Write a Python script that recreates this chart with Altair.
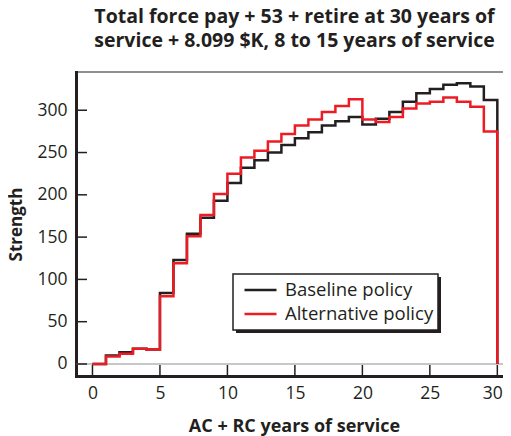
import altair as alt
import pandas as pd

# ---- data ----
years = list(range(30))
baseline = [0, 10, 14, 18, 17, 84, 123, 154, 173, 193, 214, 232, 241, 250, 259,
            267, 274, 282, 287, 292, 283, 290, 298, 310, 320, 325, 330, 332, 328, 312]
alternative = [0, 9, 12, 18, 17, 80, 119, 151, 176, 201, 225, 244, 252, 263, 272,
               282, 289, 298, 305, 313, 289, 286, 292, 302, 308, 310, 315, 310, 304, 275]
end_year = 30
series_names = ["Baseline policy", "Alternative policy"]
series_colors = ["#231f20", "#ed1c24"]
x_ticks = [0, 5, 10, 15, 20, 25, 30]
y_ticks = [0, 50, 100, 150, 200, 250, 300]
title_lines = ["Total force pay + 53 + retire at 30 years of",
               "service + 8.099 $K, 8 to 15 years of service"]
x_title = "AC + RC years of service"
y_title = "Strength"

INK = "#231f20"
FONT = "Open Sans"
W, H = 427, 304


def series_rows(name, vals):
    out = [{"year": y, "value": v, "policy": name, "idx": i}
           for i, (y, v) in enumerate(zip(years, vals))]
    out.append({"year": end_year, "value": vals[-1], "policy": name, "idx": len(vals)})
    out.append({"year": end_year, "value": 0, "policy": name, "idx": len(vals) + 1})
    return out


df_base = pd.DataFrame(series_rows(series_names[0], baseline))
df_alt = pd.DataFrame(series_rows(series_names[1], alternative))

x_scale = alt.Scale(domain=[-1.22, 30.42], nice=False, zero=False)
y_scale = alt.Scale(domain=[-14.2, 345.2], nice=False, zero=False)
color_scale = alt.Scale(domain=series_names, range=series_colors)

x_axis = alt.Axis(values=x_ticks, ticks=False, grid=False, domainWidth=3,
                  domainColor=INK, domainCap="square", labelFont=FONT, labelFontSize=17.5,
                  labelColor=INK, labelPadding=8,
                  labelOffset={"condition": {"test": "datum.value == 30", "value": -5},
                               "value": 0},
                  title=x_title, titleFont=FONT,
                  titleFontSize=18, titleFontWeight="bold", titleColor=INK,
                  titleX=218, titleY=55, titleBaseline="alphabetic")
y_axis = alt.Axis(values=y_ticks, ticks=False, grid=False, domainWidth=3,
                  domainColor=INK, domainCap="square", labelFont=FONT, labelFontSize=17.5,
                  labelColor=INK, labelPadding=9, title=y_title, titleFont=FONT,
                  titleFontSize=17, titleFontWeight="bold", titleColor=INK,
                  titleX=-60, titleY=H / 2, titleAngle=270, titleAlign="center",
                  titleBaseline="middle")

zero_line = alt.Chart(pd.DataFrame({"v": [0]})).mark_rule(
    color="#b5b5b5", strokeWidth=1.5
).encode(y=alt.Y("v:Q", scale=y_scale, axis=y_axis))

y_tick_marks = alt.Chart(pd.DataFrame({"t": y_ticks})).mark_rule(
    color=INK, strokeWidth=1.5
).encode(y=alt.Y("t:Q", scale=y_scale, axis=y_axis), x=alt.value(0), x2=alt.value(11))

x_tick_marks = alt.Chart(pd.DataFrame({"t": x_ticks})).mark_rule(
    color=INK, strokeWidth=1.5
).encode(x=alt.X("t:Q", scale=x_scale, axis=x_axis), y=alt.value(H), y2=alt.value(H - 11))

top_border = alt.Chart(pd.DataFrame({"v": [0]})).mark_rule(
    color=INK, strokeWidth=1.2
).encode(y=alt.value(0), x=alt.value(0), x2=alt.value(W))

shadow = alt.Chart(pd.DataFrame({"v": [0]})).mark_rect(color=INK).encode(
    x=alt.value(160), x2=alt.value(365), y=alt.value(205), y2=alt.value(261)
)


def line_layer(df):
    return alt.Chart(df).mark_line(interpolate="step-after", strokeWidth=2.5).encode(
        x=alt.X("year:Q", scale=x_scale, axis=x_axis),
        y=alt.Y("value:Q", scale=y_scale, axis=y_axis),
        color=alt.Color("policy:N", scale=color_scale,
                        legend=alt.Legend(title=None)),
        order=alt.Order("idx:Q"),
    )


chart = alt.layer(
    zero_line, y_tick_marks, x_tick_marks, top_border, shadow,
    line_layer(df_base), line_layer(df_alt)
).properties(
    width=W, height=H,
    padding={"left": 68, "top": 64, "right": 0, "bottom": 60},
    autosize=alt.AutoSizeParams(type="none"),
    title=alt.TitleParams(text=title_lines, font=FONT, fontSize=19.5, fontWeight="bold",
                          color=INK, anchor="middle", offset=20, lineHeight=24, dx=5),
).configure_view(stroke=None).configure_legend(
    orient="none", legendX=157, legendY=202, strokeColor=INK, fillColor="white",
    padding=4, labelFont=FONT, labelFontSize=18.5, labelColor=INK, labelOffset=7,
    symbolType="stroke", symbolSize=1024, symbolStrokeWidth=2.5, rowPadding=0,
    clipHeight=24, symbolOffset=6, cornerRadius=0, strokeWidth=1.5
)

chart.save("out.html", embed_options={"renderer": "svg", "actions": False})
